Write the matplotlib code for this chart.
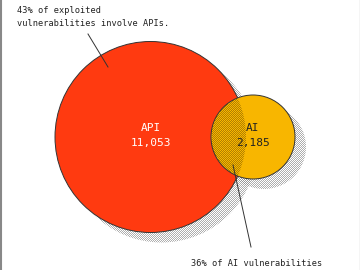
import matplotlib as mpl
mpl.use('Agg')
import matplotlib.pyplot as plt
from matplotlib.patches import Circle
import numpy as np

# venn counts
labels = ['API', 'AI']
counts = [11053, 2185]
radii = [95.5, 42]          # px
centers = [(150.5, 137), (253, 137)]
colors = ['#FF3A10', '#F8B600']
note_top = '43% of exploited\nvulnerabilities involve APIs.'
note_bottom = '36% of AI vulnerabilities'

W, H = 360, 270
fig = plt.figure(figsize=(3.6, 2.7), dpi=100)
ax = fig.add_axes([0, 0, 1, 1])
ax.set_xlim(0, W)
ax.set_ylim(H, 0)
ax.axis('off')

# one pixel checker texture
ii, jj = np.mgrid[0:H, 0:W]
checker = ((ii + jj) % 2).astype(float)

def texture(clip, rgb, alpha, z):
    img = np.zeros((H, W, 4))
    img[..., :3] = rgb
    img[..., 3] = checker * alpha
    im = ax.imshow(img, extent=(0, W, H, 0), interpolation='nearest', zorder=z)
    im.set_clip_path(clip)
    return im

# shadows
for (cx, cy), r in zip(centers, radii):
    sh = Circle((cx + 11, cy + 10), r, facecolor='white', edgecolor='none', zorder=1)
    ax.add_patch(sh)
    texture(sh, (0.55, 0.55, 0.55), 0.7, 1.5)

circles = []
for (cx, cy), r, c in zip(centers, radii, colors):
    p = Circle((cx, cy), r, facecolor=c, edgecolor='#333333', linewidth=0.7, zorder=2)
    ax.add_patch(p)
    circles.append(p)
circles[1].set_zorder(2.2)

# overlap texture: AI circle region inside API circle
im = texture(circles[0], (0.35, 0.25, 0.0), 0.45, 3)
d = np.hypot(jj + 0.5 - centers[1][0], ii + 0.5 - centers[1][1])
arr = im.get_array()
arr[d > radii[1] - 0.6, 3] = 0
im.set_data(arr)

ax.set_xlim(0, W)
ax.set_ylim(H, 0)

font = 'DejaVu Sans Mono'
tc = ['white', '#222222']
for lab, n, (cx, cy), col in zip(labels, counts, centers, tc):
    ax.text(cx, cy - 9, lab, ha='center', va='center', fontsize=8, family=font, color=col, zorder=5)
    ax.text(cx, cy + 6, f'{n:,}', ha='center', va='center', fontsize=8, family=font, color=col, zorder=5)

ax.text(17, 17, note_top, ha='left', va='center', fontsize=6.2, family=font,
        color='#222222', linespacing=1.45)
ax.plot([88, 108], [34, 67], color='#333333', lw=0.7, zorder=4)

ax.text(191, 264, note_bottom, ha='left', va='center', fontsize=6.2, family=font, color='#222222')
ax.plot([233, 251], [165, 247], color='#333333', lw=0.7, zorder=4)

# frame edges
ax.plot([0.8, 0.8], [0, H], color='#888888', lw=1.5)
ax.plot([359.5, 359.5], [0, H], color='#cccccc', lw=1)

fig.savefig('out.png', dpi=100)
